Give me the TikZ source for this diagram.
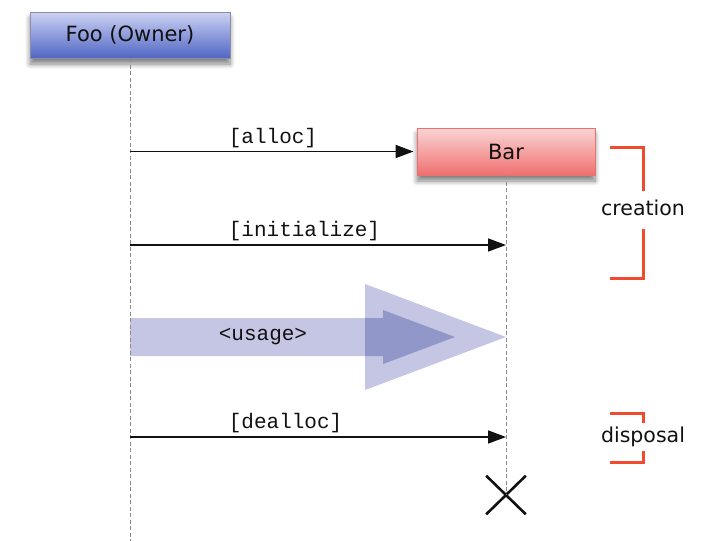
\documentclass[tikz,border=0pt]{standalone}
\usepackage{fontspec}
\setmainfont{DejaVu Sans}
\setmonofont{Liberation Mono}
\usepackage{tikz}
\usetikzlibrary{arrows.meta,positioning,calc,shapes.misc,shadows.blur}
\definecolor{seqInk}{HTML}{111111}
\definecolor{seqLine}{HTML}{8C8C8C}
\definecolor{fooTop}{HTML}{CDD2F3}
\definecolor{fooBottom}{HTML}{5066C4}
\definecolor{fooEdge}{HTML}{8A8EA6}
\definecolor{barTop}{HTML}{FBD4D4}
\definecolor{barBottom}{HTML}{EF7070}
\definecolor{barEdge}{HTML}{E8736E}
\definecolor{usageLight}{HTML}{C4C6E4}
\definecolor{usageDark}{HTML}{9297CA}
\definecolor{phaseRed}{HTML}{F14B2F}
\tikzset{
    >=Latex,
    objbox/.style={draw, line width=0.9pt, align=center, inner sep=0pt, text=seqInk,
        font=\fontsize{21}{25}\selectfont,
        blur shadow={shadow xshift=0pt, shadow yshift=-6pt, shadow opacity=50, shadow blur steps=8, shadow blur radius=5pt}},
    fooobj/.style={objbox, draw=fooEdge, top color=fooTop, bottom color=fooBottom, minimum width=200pt, minimum height=46pt},
    barobj/.style={objbox, draw=barEdge, top color=barTop, bottom color=barBottom, minimum width=178pt, minimum height=47pt},
    lifeline/.style={draw=seqLine, line width=0.8pt, dash pattern=on 4pt off 2.5pt},
    msgarrow/.style={-{Triangle[length=18pt,width=13pt]}, line width=1.7pt, draw=seqInk},
    msglabel/.style={at start, anchor=south west, xshift=98pt, inner xsep=0pt, inner ysep=3pt,
        font=\ttfamily\fontsize{21}{25}\selectfont, text=seqInk},
    killmark/.style={cross out, draw=seqInk, line width=2.6pt, minimum width=37pt, minimum height=36pt, inner sep=0pt},
    phase/.style={font=\fontsize{20.5}{24}\selectfont, text=seqInk, text height=15pt, text depth=4pt, inner xsep=0pt},
    phasebracket/.style={draw=phaseRed, line width=3pt}
}
\begin{document}
\begin{tikzpicture}[x=1pt, y=-1pt]
\useasboundingbox (0,0) rectangle (710,541);

% usage arrow
\fill[usageLight] (130,318) -- (383,318) -- (383,310) -- (455,337) -- (383,364) -- (383,356) -- (130,356) -- cycle;
\fill[usageLight] (365,284) -- (506,337) -- (365,390) -- cycle;
\begin{scope}
\clip (365,284) -- (506,337) -- (365,390) -- cycle;
\fill[usageDark] (130,318) -- (383,318) -- (383,310) -- (455,337) -- (383,364) -- (383,356) -- (130,356) -- cycle;
\end{scope}
\node[font=\ttfamily\fontsize{21}{25}\selectfont, text=seqInk] (usage) at (263,337) {<usage>};

\node[fooobj] (foo) at (130,35) {Foo (Owner)};
\node[barobj] (bar) at (506,151.5) {Bar};
\node[killmark] (kill) at (506,495) {};
\coordinate (fooend) at (130,541);
\coordinate (initend) at (506,245);
\coordinate (deallocend) at (506,437);

\draw[lifeline] (foo.south) -- (fooend);
\draw[lifeline] (bar.south) -- (kill.center);

\draw[msgarrow, shorten >=3pt] (foo.south |- bar.west) -- (bar.west) node[msglabel] {[alloc]};
\draw[msgarrow] (foo.south |- initend) -- (initend) node[msglabel] {[initialize]};
\draw[msgarrow] (foo.south |- deallocend) -- (deallocend) node[msglabel] {[dealloc]};

\node[phase, inner ysep=9pt] (creation) at (643,210) {creation};
\draw[phasebracket] (610,147) -| (creation.north);
\draw[phasebracket] (610,278) -| (creation.south);
\node[phase, inner ysep=4.5pt] (disposal) at (643,437) {disposal};
\draw[phasebracket] (610,413) -| (disposal.north);
\draw[phasebracket] (610,462) -| (disposal.south);
\end{tikzpicture}
\end{document}
